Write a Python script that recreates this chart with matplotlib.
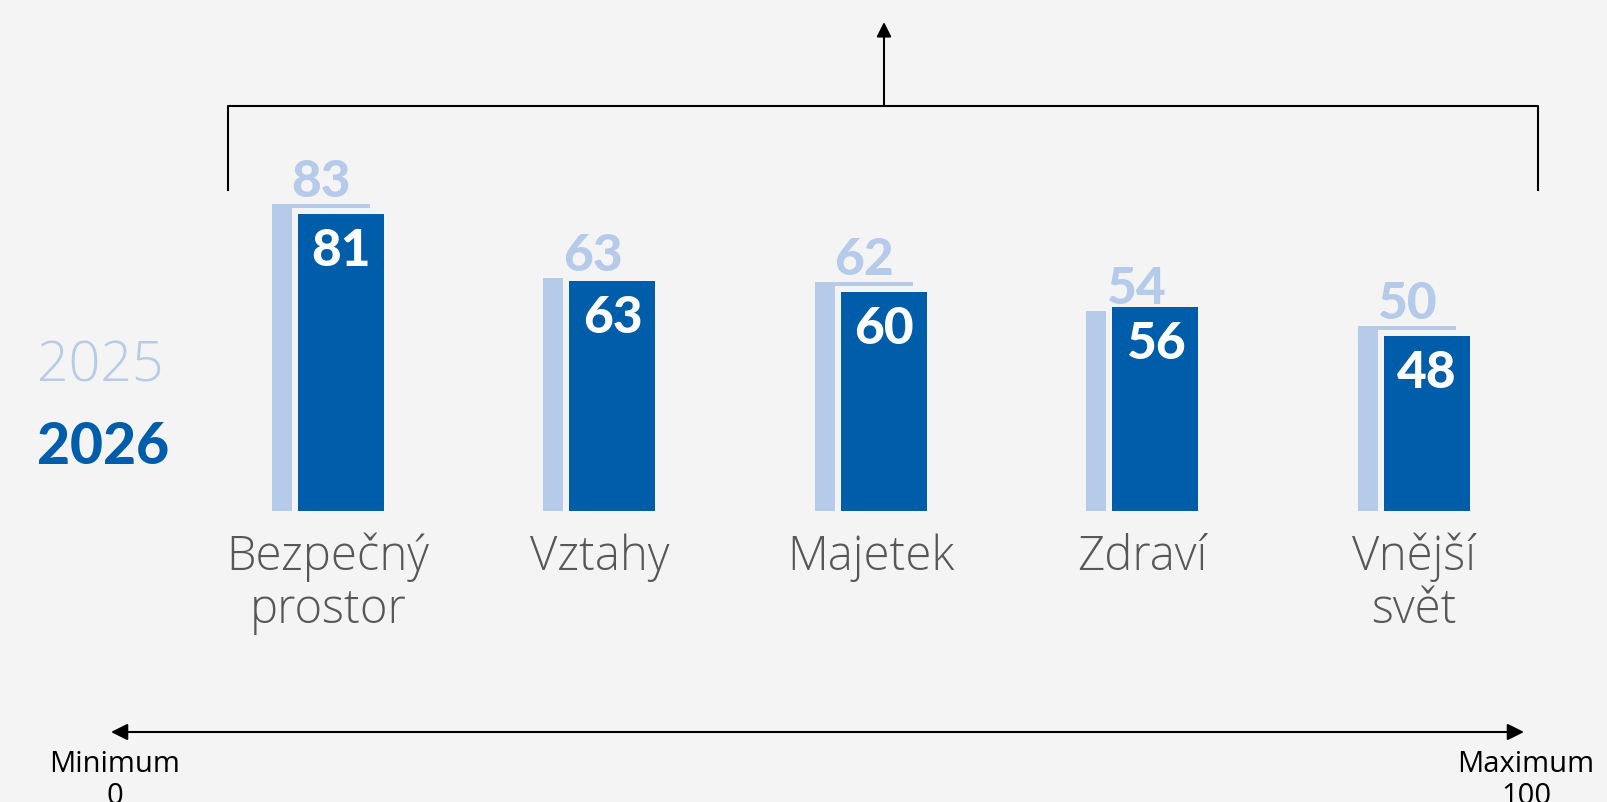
import matplotlib.pyplot as plt
import numpy as np

# Values
categories = ["Bezpečný\nprostor", "Vztahy", "Majetek", "Zdraví", "Vnější\nsvět"]
values_2025 = [83, 63, 62, 54, 50]
values_2026 = [81, 63, 60, 56, 48]
years = ["2025", "2026"]
scale_ends = ["Minimum\n0", "Maximum\n100"]

BG = "#f4f4f4"
LIGHT = "#b6cae9"
DARK = "#005da9"
GREY = "#575757"

plt.rcParams["font.family"] = ["Lato", "DejaVu Sans"]
THIN = ["Open Sans", "DejaVu Sans"]

W, H, DPI = 1608, 802, 100
fig = plt.figure(figsize=(W / DPI, H / DPI), dpi=DPI, facecolor=BG)

# layout in pixels
step = 271.5        # distance between groups
unit = 3.7          # pixels per point of value
x0 = 341            # centre of first dark bar
base = 511          # baseline, px from top
gap = 6             # gap around the 2026 bar

# overlay for the bracket / scale arrows
ov = fig.add_axes([0, 0, 1, 1])
ov.set_xlim(0, W)
ov.set_ylim(H, 0)
ov.axis("off")

ax = fig.add_axes([(x0 - step / 2) / W, (H - base) / H, 5 * step / W, 100 * unit / H])
ax.set_xlim(-0.5, 4.5)
ax.set_ylim(0, 100)
ax.axis("off")

x = np.arange(len(categories))
light_shift = -20 / step
g = gap / 2 / unit

ax.bar(x + light_shift, values_2025, width=98 / step, color=LIGHT, linewidth=0)
ax.bar(x, np.array(values_2026) + g, bottom=-g, width=(86 + gap) / step,
       color=DARK, edgecolor=BG, linewidth=gap * 72 / DPI)

for xi, v in zip(x, values_2025):
    ax.annotate(str(v), (xi + light_shift, v), xytext=(0, 7), textcoords="offset pixels",
                ha="center", va="baseline", fontsize=37, fontweight="black", color=LIGHT)
for xi, v in zip(x, values_2026):
    ax.annotate(str(v), (xi, v), xytext=(0, -55), textcoords="offset pixels",
                ha="center", va="baseline", fontsize=37, fontweight="black", color="white")
for xi, lab in zip(x, categories):
    ax.annotate(lab, (xi - 13 / step, 0), xytext=(0, -22), textcoords="offset pixels",
                ha="center", va="top", fontsize=34, fontweight="light", color=GREY,
                linespacing=1.1, family=THIN)

# year legend
fig.text(37 / W, 1 - 381 / H, years[0], fontsize=40, fontweight="light", color=LIGHT,
         ha="left", va="baseline", family=THIN)
fig.text(37 / W, 1 - 464 / H, years[1], fontsize=41, fontweight="black", color=DARK,
         ha="left", va="baseline")

# bracket with arrow on top
ov.plot([228, 228, 1538, 1538], [190, 106, 106, 190], color="black", lw=1.5)
ov.annotate("", xy=(884, 22), xytext=(884, 106),
            arrowprops=dict(arrowstyle="-|>", color="black", lw=1.5,
                            mutation_scale=22, shrinkA=0, shrinkB=0))

# min / max scale arrow
ov.annotate("", xy=(111, 732), xytext=(1524, 732),
            arrowprops=dict(arrowstyle="<|-|>", color="black", lw=1.5,
                            mutation_scale=25, shrinkA=0, shrinkB=0))
ov.text(115, 750, scale_ends[0], ha="center", va="top", fontsize=21,
        color="black", linespacing=1.15, family=THIN)
ov.text(1526, 750, scale_ends[1], ha="center", va="top", fontsize=21,
        color="black", linespacing=1.15, family=THIN)

fig.savefig("out.png", dpi=DPI, facecolor=BG)
